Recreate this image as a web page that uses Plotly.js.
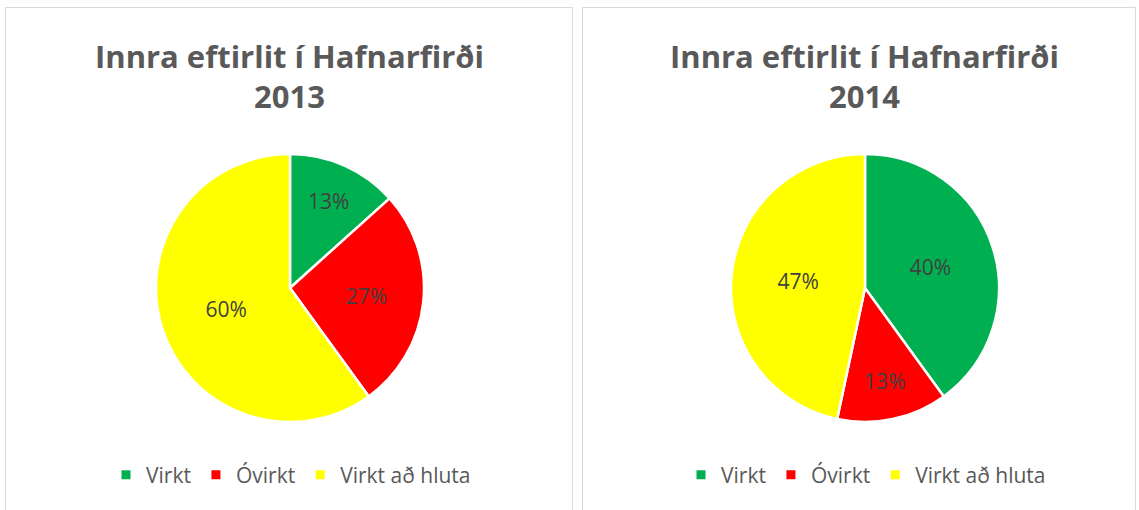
<!DOCTYPE html>
<html>
<head>
<meta charset="utf-8">
<script src="https://cdn.plot.ly/plotly-3.0.1.min.js"></script>
<style>html,body{margin:0;padding:0;background:#fff;}#chart{width:1139px;height:510px;}</style>
</head>
<body>
<div id="chart"></div>
<script>
const categories = ["Virkt", "Óvirkt", "Virkt að hluta"];
const values2013 = [2, 4, 9];
const values2014 = [6, 2, 7];
const colors = ["#00B050", "#FF0000", "#FFFF00"];
const titles = ["Innra eftirlit í Hafnarfirði<br>2013", "Innra eftirlit í Hafnarfirði<br>2014"];

const W = 1139, H = 510;
function px(x){return x/W;}
function py(y){return 1 - y/H;}

const common = {
  type: "pie",
  labels: categories,
  sort: false,
  direction: "clockwise",
  rotation: 0,
  marker: {colors: colors, line: {color: "#ffffff", width: 2.5}},
  textposition: "inside",
  texttemplate: "%{percent:.0%}",
  insidetextorientation: "horizontal",
  textfont: {family: "Open Sans, sans-serif", size: 21, color: "#404040"},
  hoverinfo: "label+percent",
  showlegend: false
};

const r = 134;
const traces = [
  Object.assign({}, common, {
    values: values2013,
    domain: {x: [px(290 - r), px(290 + r)], y: [py(288 + r), py(288 - r)]}
  }),
  Object.assign({}, common, {
    values: values2014,
    domain: {x: [px(865 - r), px(865 + r)], y: [py(288 + r), py(288 - r)]}
  })
];

// legend entries (one legend per chart), built from the categories and colours
["legend", "legend2"].forEach(function(lg){
  categories.forEach(function(c, i){
    traces.push({
      type: "scatter", mode: "markers", x: [null], y: [null],
      name: c, legend: lg, showlegend: true, hoverinfo: "skip",
      marker: {symbol: "square", size: 9, color: colors[i], line: {width: 0}}
    });
  });
});

const titleFont = {family: "Open Sans, sans-serif", size: 31, color: "#595959", weight: "bold"};
const legendFont = {family: "Open Sans, sans-serif", size: 21, color: "#595959"};

const layout = {
  width: W, height: H,
  margin: {l: 0, r: 0, t: 0, b: 0},
  paper_bgcolor: "#ffffff",
  plot_bgcolor: "rgba(0,0,0,0)",
  xaxis: {visible: false, domain: [0, 0.01]},
  yaxis: {visible: false, domain: [0, 0.01]},
  legend: {orientation: "h", x: px(291), xanchor: "center", y: py(475), yanchor: "middle",
           font: legendFont, itemclick: false, itemdoubleclick: false, traceorder: "normal"},
  legend2: {orientation: "h", x: px(866), xanchor: "center", y: py(475), yanchor: "middle",
            font: legendFont, itemclick: false, itemdoubleclick: false, traceorder: "normal"},
  shapes: [
    {type: "rect", xref: "paper", yref: "paper", x0: px(5.5), x1: px(572.5), y0: py(515), y1: py(7.5),
     line: {color: "#D9D9D9", width: 1}},
    {type: "rect", xref: "paper", yref: "paper", x0: px(582.5), x1: px(1135.5), y0: py(515), y1: py(7.5),
     line: {color: "#D9D9D9", width: 1}}
  ],
  annotations: [
    {text: "<b>" + titles[0] + "</b>", xref: "paper", yref: "paper", x: px(289), y: py(76), xanchor: "center", yanchor: "middle",
     showarrow: false, font: titleFont},
    {text: "<b>" + titles[1] + "</b>", xref: "paper", yref: "paper", x: px(864), y: py(76), xanchor: "center", yanchor: "middle",
     showarrow: false, font: titleFont}
  ]
};

Plotly.newPlot("chart", traces, layout, {displayModeBar: false, staticPlot: true});
</script>
</body>
</html>
